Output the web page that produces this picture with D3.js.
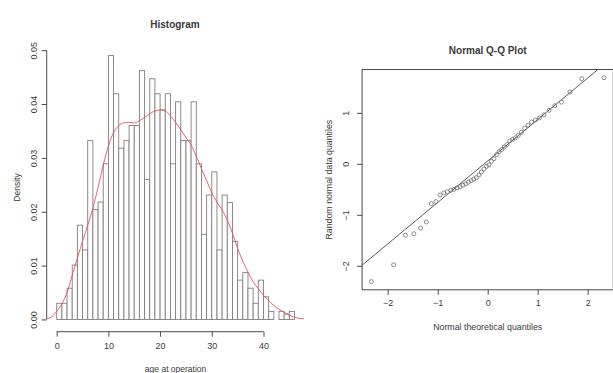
<!DOCTYPE html>
<html>
<head>
<meta charset="utf-8">
<script src="https://cdn.jsdelivr.net/npm/d3@7/dist/d3.min.js"></script>
<style>
  html, body { margin: 0; padding: 0; background: #ffffff; }
  svg { display: block; }
  text { font-family: "Liberation Sans", Arial, sans-serif; fill: #3a3a3a; }
</style>
</head>
<body>
<svg id="chart" width="613" height="373"></svg>
<script>
// ---------------- Histogram data ----------------
const binStarts = [0,1,2,3,4,5,6,7,8,9,10,11,12,13,14,15,16,17,18,19,20,21,22,23,24,25,26,27,28,29,30,31,32,33,34,35,36,37,38,39,40,41,42,43,44,45];
const binWidth = 1;
const binDensity = [0.0030,0.0030,0.0058,0.0101,0.0175,0.0129,0.0332,0.0204,0.0218,0.0289,
                    0.0490,0.0419,0.0318,0.0332,0.0360,0.0360,0.0462,0.0260,0.0447,0.0419,
                    0.0389,0.0419,0.0289,0.0404,0.0332,0.0332,0.0404,0.0289,0.0158,0.0231,
                    0.0274,0.0129,0.0231,0.0217,0.0145,0.0073,0.0087,0.0058,0.0030,0.0073,
                    0.0042,0.0015,0.0000,0.0015,0.0010,0.0015];
const histXTicks = [0,10,20,30,40];
const histYTicks = [0.00,0.01,0.02,0.03,0.04,0.05];

// kernel density curve
const kdeAge = [-2.3,-1.3,0,1,2,3,4,5,6,7,8,9,10,11,12,13,14,15,16,17,18,19,20,21,22,23,24,25,26,27,28,29,30,31,32,33,34,35,36,37,38,39,40,41,42,43,44,45,46,47,48];
const kdeDensity = [0.0001,0.0003,0.0015,0.0029,0.0050,0.0082,0.0114,0.0145,0.0175,0.0207,0.0245,0.0287,0.0322,0.0347,0.0360,0.0365,0.0366,0.0365,0.0369,0.0375,0.0382,0.0387,0.0389,0.0387,0.0378,0.0366,0.0352,0.0338,0.0324,0.0303,0.0280,0.0258,0.0235,0.0218,0.0203,0.0185,0.0160,0.0132,0.0108,0.0088,0.0070,0.0057,0.0045,0.0035,0.0026,0.0019,0.0013,0.0008,0.0004,0.0002,0.0001];

// ---------------- Q-Q data ----------------
const qqTheoretical = [-2.326,-1.881,-1.645,-1.476,-1.341,-1.227,-1.126,-1.036,-0.954,-0.878,
                       -0.806,-0.739,-0.674,-0.613,-0.553,-0.496,-0.440,-0.385,-0.332,-0.279,
                       -0.228,-0.176,-0.126,-0.075,-0.025,0.025,0.075,0.126,0.176,0.228,
                       0.279,0.332,0.385,0.440,0.496,0.553,0.613,0.674,0.739,0.806,
                       0.878,0.954,1.036,1.126,1.227,1.341,1.476,1.645,1.881,2.326];
const qqSample = [-2.31,-1.98,-1.40,-1.37,-1.26,-1.14,-0.78,-0.74,-0.61,-0.57,
                  -0.55,-0.52,-0.50,-0.47,-0.45,-0.42,-0.39,-0.36,-0.33,-0.30,
                  -0.27,-0.22,-0.16,-0.10,-0.05,-0.02,0.05,0.10,0.18,0.24,
                  0.28,0.33,0.38,0.45,0.48,0.51,0.56,0.62,0.70,0.76,
                  0.82,0.86,0.90,0.96,1.05,1.14,1.21,1.41,1.67,1.69];
const qqXTicks = [-2,-1,0,1,2];
const qqYTicks = [-2,-1,0,1];

// ---------------- drawing ----------------
const svg = d3.select("#chart");
svg.append("rect").attr("width",613).attr("height",373).attr("fill","#fff");

const axisColor = "#4a4a4a";
const fsTick = 9;

function extend(lo, hi){ const d=(hi-lo)*0.04; return [lo-d, hi+d]; }

// ===== Histogram =====
const hReg = {left:47.2, right:304, top:45, bottom:330};
const hx = d3.scaleLinear().domain(extend(0, 46)).range([hReg.left, hReg.right]);
const hy = d3.scaleLinear().domain(extend(0, d3.max(binDensity))).range([hReg.bottom, hReg.top]);

const gH = svg.append("g");
gH.append("clipPath").attr("id","hclip").append("rect")
  .attr("x",hReg.left).attr("y",hReg.top).attr("width",hReg.right-hReg.left).attr("height",hReg.bottom-hReg.top);

gH.selectAll("rect.bar").data(binStarts).enter().append("rect")
  .attr("class","bar")
  .attr("x", (d)=>hx(d))
  .attr("width", (d)=>hx(d+binWidth)-hx(d))
  .attr("y", (d,i)=>hy(binDensity[i]))
  .attr("height", (d,i)=>hy(0)-hy(binDensity[i]))
  .attr("fill","#fff").attr("stroke","#857d7d").attr("stroke-width",0.9);

const kdeLine = d3.line().curve(d3.curveMonotoneX)
  .x((d,i)=>hx(kdeAge[i])).y((d)=>hy(d));
gH.append("path").attr("d", kdeLine(kdeDensity))
  .attr("clip-path","url(#hclip)")
  .attr("fill","none").attr("stroke","#e05558").attr("stroke-width",0.9);

// x axis (R style, line from first to last tick)
const hxAxisY = 331.7;
const hxa = d3.axisBottom(hx).tickValues(histXTicks).tickSize(5).tickPadding(6).tickFormat(d3.format("d"));
const gHx = gH.append("g").attr("transform",`translate(0,${hxAxisY})`).call(hxa);
gHx.select(".domain").remove();
gHx.append("line").attr("x1",hx(histXTicks[0])).attr("x2",hx(histXTicks[histXTicks.length-1]))
  .attr("stroke",axisColor);
gHx.selectAll(".tick line").attr("stroke",axisColor);
gHx.selectAll(".tick text").attr("font-size",fsTick).attr("fill","#444")
  .attr("font-family","Liberation Sans, Arial, sans-serif");

// y axis
const hyAxisX = 46.7;
const hya = d3.axisLeft(hy).tickValues(histYTicks).tickSize(5).tickFormat(d3.format(".2f"));
const gHy = gH.append("g").attr("transform",`translate(${hyAxisX},0)`).call(hya);
gHy.select(".domain").remove();
gHy.append("line").attr("y1",hy(histYTicks[0])).attr("y2",hy(histYTicks[histYTicks.length-1]))
  .attr("stroke",axisColor);
gHy.selectAll(".tick line").attr("stroke",axisColor);
gHy.selectAll(".tick text").remove();
gHy.selectAll(".tick").append("text")
  .attr("transform","translate(-10,0) rotate(-90)")
  .attr("text-anchor","middle").attr("dy","0")
  .attr("font-size",fsTick).attr("fill","#444")
  .attr("font-family","Liberation Sans, Arial, sans-serif")
  .text((d)=>d3.format(".2f")(d));

// titles and labels
svg.append("text").attr("x",175).attr("y",27.5).attr("text-anchor","middle")
  .attr("font-size",10).attr("font-weight","bold").attr("fill","#222").text("Histogram");
svg.append("text").attr("transform",`translate(20,${(hReg.top+hReg.bottom)/2}) rotate(-90)`)
  .attr("text-anchor","middle").attr("font-size",8.5).attr("fill","#444").text("Density");
svg.append("text").attr("x",(hReg.left+hReg.right)/2).attr("y",372)
  .attr("text-anchor","middle").attr("font-size",8.5).attr("fill","#444").text("age at operation");

// ===== Q-Q plot =====
const qReg = {left:362.1, right:613.3, top:69.5, bottom:289.8};
const qx = d3.scaleLinear().domain(extend(d3.min(qqTheoretical), d3.max(qqTheoretical))).range([qReg.left, qReg.right]);
const qy = d3.scaleLinear().domain(extend(d3.min(qqSample), d3.max(qqSample))).range([qReg.bottom, qReg.top]);

const gQ = svg.append("g");
gQ.append("clipPath").attr("id","qclip").append("rect")
  .attr("x",qReg.left).attr("y",qReg.top).attr("width",qReg.right-qReg.left).attr("height",qReg.bottom-qReg.top);

// qqline through quartiles (as R's qqline)
const sorted = qqSample.slice().sort(d3.ascending);
const q1 = d3.quantileSorted(sorted, 0.25), q3 = d3.quantileSorted(sorted, 0.75);
const z1 = -0.6745, z3 = 0.6745;
const slope = (q3-q1)/(z3-z1), intercept = q1 - slope*z1;
const xd = qx.domain();
gQ.append("line")
  .attr("clip-path","url(#qclip)")
  .attr("x1",qx(xd[0])).attr("y1",qy(intercept+slope*xd[0]))
  .attr("x2",qx(xd[1])).attr("y2",qy(intercept+slope*xd[1]))
  .attr("stroke","#5a5a5a").attr("stroke-width",1);

gQ.selectAll("circle.pt").data(qqSample).enter().append("circle")
  .attr("class","pt")
  .attr("cx",(d,i)=>qx(qqTheoretical[i])).attr("cy",(d)=>qy(d)).attr("r",2)
  .attr("fill","none").attr("stroke","#707070").attr("stroke-width",0.8);

// box
gQ.append("rect").attr("x",qReg.left).attr("y",qReg.top)
  .attr("width",qReg.right-qReg.left).attr("height",qReg.bottom-qReg.top)
  .attr("fill","none").attr("stroke",axisColor).attr("stroke-width",1);

const qxa = d3.axisBottom(qx).tickValues(qqXTicks).tickSize(5).tickPadding(5).tickFormat(d3.format("d"));
const gQx = gQ.append("g").attr("transform",`translate(0,${qReg.bottom})`).call(qxa);
gQx.select(".domain").remove();
gQx.selectAll(".tick line").attr("stroke",axisColor);
gQx.selectAll(".tick text").attr("font-size",fsTick).attr("fill","#444")
  .attr("font-family","Liberation Sans, Arial, sans-serif");

const qya = d3.axisLeft(qy).tickValues(qqYTicks).tickSize(5);
const gQy = gQ.append("g").attr("transform",`translate(${qReg.left},0)`).call(qya);
gQy.select(".domain").remove();
gQy.selectAll(".tick line").attr("stroke",axisColor);
gQy.selectAll(".tick text").remove();
gQy.selectAll(".tick").append("text")
  .attr("transform","translate(-13,0) rotate(-90)")
  .attr("text-anchor","middle")
  .attr("font-size",fsTick).attr("fill","#444")
  .attr("font-family","Liberation Sans, Arial, sans-serif")
  .text((d)=>d3.format("d")(d));

svg.append("text").attr("x",487.7).attr("y",53.5).attr("text-anchor","middle")
  .attr("font-size",10).attr("font-weight","bold").attr("fill","#222").text("Normal Q-Q Plot");
svg.append("text").attr("transform",`translate(332,${(qReg.top+qReg.bottom)/2}) rotate(-90)`)
  .attr("text-anchor","middle").attr("font-size",8.8).attr("fill","#444").text("Random normal data quantiles");
svg.append("text").attr("x",487.7).attr("y",329.5).attr("text-anchor","middle")
  .attr("font-size",8.8).attr("fill","#444").text("Normal theoretical quantiles");
</script>
</body>
</html>
